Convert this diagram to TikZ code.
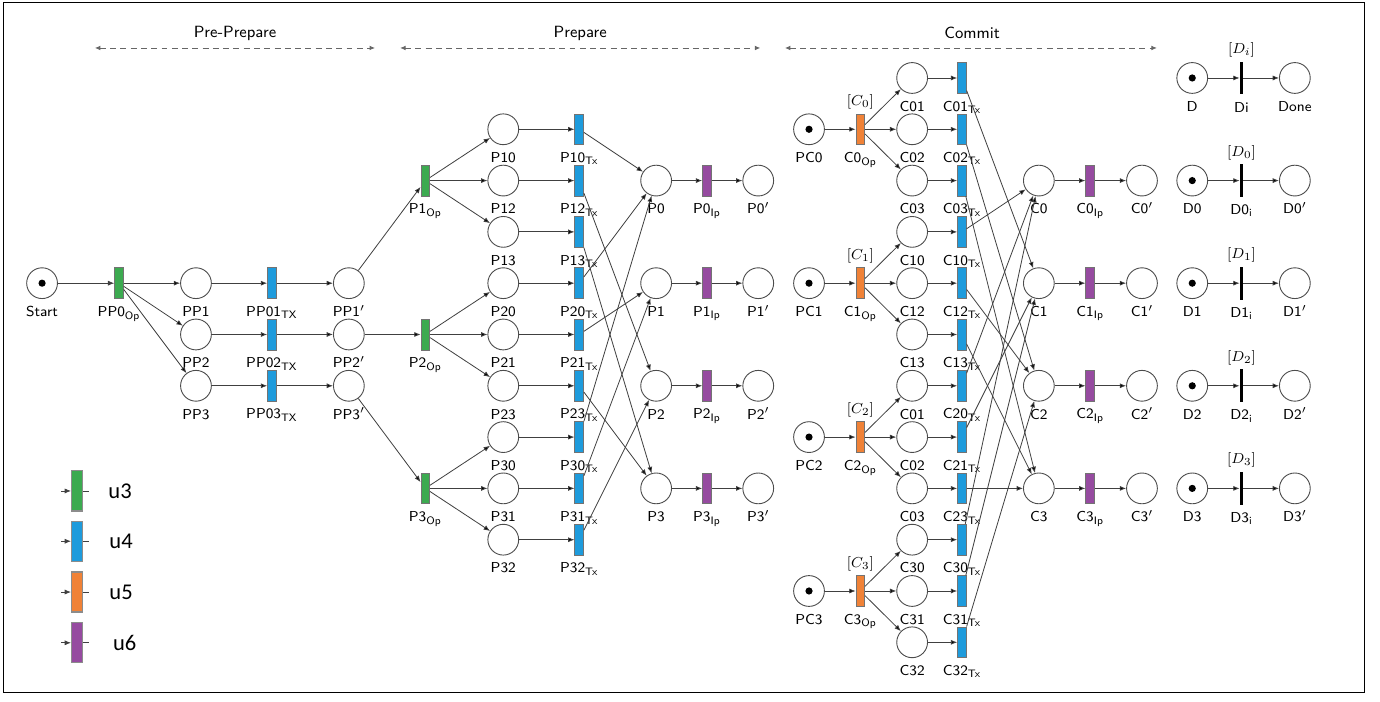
\documentclass[tikz,border=0pt]{standalone}
\usepackage{fontspec}
\newfontfamily\legendfont{Carlito}
\usetikzlibrary{arrows.meta,calc}
\definecolor{opgreen}{RGB}{60,170,80}
\definecolor{txblue}{RGB}{30,155,220}
\definecolor{oporange}{RGB}{240,130,55}
\definecolor{ippurple}{RGB}{150,75,160}
\begin{document}
\begin{tikzpicture}[
        font=\sffamily\footnotesize,
        place/.style={circle, draw=black!70, line width=0.5pt, minimum size=0.6cm, inner sep=0pt},
        token/.style={place, path picture={\fill (path picture bounding box.center) circle (0.07);}},
        trans/.style={rectangle, draw=black!55, line width=0.4pt, minimum width=0.17cm, minimum height=0.6cm, inner sep=0pt},
        greenT/.style={trans, fill=opgreen},
        blueT/.style={trans, fill=txblue},
        orangeT/.style={trans, fill=oporange},
        purpleT/.style={trans, fill=ippurple},
        barT/.style={rectangle, fill=black, minimum width=0.06cm, minimum height=0.64cm, inner sep=0pt},
        keyT/.style={minimum width=0.21cm, minimum height=0.78cm, draw=black!45, line width=0.6pt},
        flow/.style={draw=black!75, line width=0.45pt, -{Latex[length=3.5pt, width=2.8pt]}},
        span/.style={draw=black!60, line width=0.5pt, dash pattern=on 3.3pt off 2.4pt, {Latex[length=3pt, width=2.6pt]}-{Latex[length=3pt, width=2.6pt]}},
        every label/.style={font=\sffamily\footnotesize, text height=1.5ex, text depth=0.25ex, inner sep=1pt},
        label distance=2pt
    ]
            \useasboundingbox (-0.82,-12.16) rectangle (26.08,1.52);
            \draw[black, line width=0.6pt] (-0.76,1.48) rectangle (25.77,-11.97);
            % Phase headers
            \node[font=\sffamily\small] (ppHead) at (3.76,0.877) {Pre-Prepare};
            \node[font=\sffamily\small] (pHead) at (10.49,0.877) {Prepare};
            \node[font=\sffamily\small] (cHead) at (18.13,0.877) {Commit};
            \coordinate (ppL) at (1.03,0.585); \coordinate (ppR) at (6.49,0.585);
            \coordinate (pL) at (6.98,0.585); \coordinate (pR) at (14.0,0.585);
            \coordinate (cL) at (14.48,0.585); \coordinate (cR) at (21.73,0.585);
            \draw[span] (ppL) -- (ppR);
            \draw[span] (pL) -- (pR);
            \draw[span] (cL) -- (cR);
            % Pre-Prepare
            \node[token, label={below:Start}] (start) at (0,-4) {};
            \node[greenT, label={below:PP0\textsubscript{Op}}] (pp0op) at (1.5,-4) {};
            \node[place, label={below:PP1}] (pp1) at (3,-4) {};
            \node[place, label={below:PP2}] (pp2) at (3,-5) {};
            \node[place, label={below:PP3}] (pp3) at (3,-6) {};
            \node[blueT, label={below:PP01\textsubscript{TX}}] (pp01tx) at (4.48,-4) {};
            \node[blueT, label={below:PP02\textsubscript{TX}}] (pp02tx) at (4.48,-5) {};
            \node[blueT, label={below:PP03\textsubscript{TX}}] (pp03tx) at (4.48,-6) {};
            \node[place, label={below:PP1$'$}] (pp1p) at (5.98,-4) {};
            \node[place, label={below:PP2$'$}] (pp2p) at (5.98,-5) {};
            \node[place, label={below:PP3$'$}] (pp3p) at (5.98,-6) {};
            \draw[flow] (start) -- (pp0op);
            \draw[flow] (pp0op) edge (pp1) edge (pp2) edge (pp3);
            \draw[flow] (pp1) edge (pp01tx) (pp2) edge (pp02tx) (pp3) edge (pp03tx);
            \draw[flow] (pp01tx) edge (pp1p) (pp02tx) edge (pp2p) (pp03tx) edge (pp3p);
            % Prepare
            \node[greenT, label={below:P1\textsubscript{Op}}] (p1op) at (7.47,-2) {};
            \node[greenT, label={below:P2\textsubscript{Op}}] (p2op) at (7.47,-5) {};
            \node[greenT, label={below:P3\textsubscript{Op}}] (p3op) at (7.47,-8) {};
            \node[place, label={below:P10}] (p10) at (8.99,-1) {};
            \node[place, label={below:P12}] (p12) at (8.99,-2) {};
            \node[place, label={below:P13}] (p13) at (8.99,-3) {};
            \node[place, label={below:P20}] (p20) at (8.99,-4) {};
            \node[place, label={below:P21}] (p21) at (8.99,-5) {};
            \node[place, label={below:P23}] (p23) at (8.99,-6) {};
            \node[place, label={below:P30}] (p30) at (8.99,-7) {};
            \node[place, label={below:P31}] (p31) at (8.99,-8) {};
            \node[place, label={below:P32}] (p32) at (8.99,-9) {};
            \node[blueT, label={below:P10\textsubscript{Tx}}] (p10tx) at (10.47,-1) {};
            \node[blueT, label={below:P12\textsubscript{Tx}}] (p12tx) at (10.47,-2) {};
            \node[blueT, label={below:P13\textsubscript{Tx}}] (p13tx) at (10.47,-3) {};
            \node[blueT, label={below:P20\textsubscript{Tx}}] (p20tx) at (10.47,-4) {};
            \node[blueT, label={below:P21\textsubscript{Tx}}] (p21tx) at (10.47,-5) {};
            \node[blueT, label={below:P23\textsubscript{Tx}}] (p23tx) at (10.47,-6) {};
            \node[blueT, label={below:P30\textsubscript{Tx}}] (p30tx) at (10.47,-7) {};
            \node[blueT, label={below:P31\textsubscript{Tx}}] (p31tx) at (10.47,-8) {};
            \node[blueT, label={below:P32\textsubscript{Tx}}] (p32tx) at (10.47,-9) {};
            \node[place, label={below:P0}] (p0) at (11.97,-2) {};
            \node[place, label={below:P1}] (p1) at (11.97,-4) {};
            \node[place, label={below:P2}] (p2) at (11.97,-6) {};
            \node[place, label={below:P3}] (p3) at (11.97,-8) {};
            \node[purpleT, label={below:P0\textsubscript{Ip}}] (p0ip) at (12.96,-2) {};
            \node[purpleT, label={below:P1\textsubscript{Ip}}] (p1ip) at (12.96,-4) {};
            \node[purpleT, label={below:P2\textsubscript{Ip}}] (p2ip) at (12.96,-6) {};
            \node[purpleT, label={below:P3\textsubscript{Ip}}] (p3ip) at (12.96,-8) {};
            \node[place, label={below:P0$'$}] (p0p) at (13.96,-2) {};
            \node[place, label={below:P1$'$}] (p1p) at (13.96,-4) {};
            \node[place, label={below:P2$'$}] (p2p) at (13.96,-6) {};
            \node[place, label={below:P3$'$}] (p3p) at (13.96,-8) {};
            \draw[flow] (pp1p) edge (p1op) (pp2p) edge (p2op) (pp3p) edge (p3op);
            \draw[flow] (p1op) edge (p10) edge (p12) edge (p13);
            \draw[flow] (p2op) edge (p20) edge (p21) edge (p23);
            \draw[flow] (p3op) edge (p30) edge (p31) edge (p32);
            \draw[flow] (p10) edge (p10tx) (p12) edge (p12tx) (p13) edge (p13tx);
            \draw[flow] (p20) edge (p20tx) (p21) edge (p21tx) (p23) edge (p23tx);
            \draw[flow] (p30) edge (p30tx) (p31) edge (p31tx) (p32) edge (p32tx);
            \draw[flow] (p10tx) edge (p0) (p12tx) edge (p2) (p13tx) edge (p3);
            \draw[flow] (p20tx) edge (p0) (p21tx) edge (p1) (p23tx) edge (p3);
            \draw[flow] (p30tx) edge (p0) (p31tx) edge (p1) (p32tx) edge (p2);
            \draw[flow] (p0) edge (p0ip) (p1) edge (p1ip) (p2) edge (p2ip) (p3) edge (p3ip);
            \draw[flow] (p0ip) edge (p0p) (p1ip) edge (p1p) (p2ip) edge (p2p) (p3ip) edge (p3p);
            % Commit
            \node[token, label={below:PC0}] (pc0) at (14.95,-1) {};
            \node[token, label={below:PC1}] (pc1) at (14.95,-4) {};
            \node[token, label={below:PC2}] (pc2) at (14.95,-7) {};
            \node[token, label={below:PC3}] (pc3) at (14.95,-10) {};
            \node[orangeT, label={below:C0\textsubscript{Op}}, label={above:$[C_0]$}] (c0op) at (15.95,-1) {};
            \node[orangeT, label={below:C1\textsubscript{Op}}, label={above:$[C_1]$}] (c1op) at (15.95,-4) {};
            \node[orangeT, label={below:C2\textsubscript{Op}}, label={above:$[C_2]$}] (c2op) at (15.95,-7) {};
            \node[orangeT, label={below:C3\textsubscript{Op}}, label={above:$[C_3]$}] (c3op) at (15.95,-10) {};
            \node[place, label={below:C01}] (c01) at (16.96,0) {};
            \node[place, label={below:C02}] (c02) at (16.96,-1) {};
            \node[place, label={below:C03}] (c03) at (16.96,-2) {};
            \node[place, label={below:C10}] (c10) at (16.96,-3) {};
            \node[place, label={below:C12}] (c12) at (16.96,-4) {};
            \node[place, label={below:C13}] (c13) at (16.96,-5) {};
            \node[place, label={below:C01}] (c20) at (16.96,-6) {};
            \node[place, label={below:C02}] (c21) at (16.96,-7) {};
            \node[place, label={below:C03}] (c23) at (16.96,-8) {};
            \node[place, label={below:C30}] (c30) at (16.96,-9) {};
            \node[place, label={below:C31}] (c31) at (16.96,-10) {};
            \node[place, label={below:C32}] (c32) at (16.96,-11) {};
            \node[blueT, label={below:C01\textsubscript{Tx}}] (c01tx) at (17.93,0) {};
            \node[blueT, label={below:C02\textsubscript{Tx}}] (c02tx) at (17.93,-1) {};
            \node[blueT, label={below:C03\textsubscript{Tx}}] (c03tx) at (17.93,-2) {};
            \node[blueT, label={below:C10\textsubscript{Tx}}] (c10tx) at (17.93,-3) {};
            \node[blueT, label={below:C12\textsubscript{Tx}}] (c12tx) at (17.93,-4) {};
            \node[blueT, label={below:C13\textsubscript{Tx}}] (c13tx) at (17.93,-5) {};
            \node[blueT, label={below:C20\textsubscript{Tx}}] (c20tx) at (17.93,-6) {};
            \node[blueT, label={below:C21\textsubscript{Tx}}] (c21tx) at (17.93,-7) {};
            \node[blueT, label={below:C23\textsubscript{Tx}}] (c23tx) at (17.93,-8) {};
            \node[blueT, label={below:C30\textsubscript{Tx}}] (c30tx) at (17.93,-9) {};
            \node[blueT, label={below:C31\textsubscript{Tx}}] (c31tx) at (17.93,-10) {};
            \node[blueT, label={below:C32\textsubscript{Tx}}] (c32tx) at (17.93,-11) {};
            \node[place, label={below:C0}] (c0) at (19.43,-2) {};
            \node[place, label={below:C1}] (c1) at (19.43,-4) {};
            \node[place, label={below:C2}] (c2) at (19.43,-6) {};
            \node[place, label={below:C3}] (c3) at (19.43,-8) {};
            \node[purpleT, label={below:C0\textsubscript{Ip}}] (c0ip) at (20.43,-2) {};
            \node[purpleT, label={below:C1\textsubscript{Ip}}] (c1ip) at (20.43,-4) {};
            \node[purpleT, label={below:C2\textsubscript{Ip}}] (c2ip) at (20.43,-6) {};
            \node[purpleT, label={below:C3\textsubscript{Ip}}] (c3ip) at (20.43,-8) {};
            \node[place, label={below:C0$'$}] (c0p) at (21.44,-2) {};
            \node[place, label={below:C1$'$}] (c1p) at (21.44,-4) {};
            \node[place, label={below:C2$'$}] (c2p) at (21.44,-6) {};
            \node[place, label={below:C3$'$}] (c3p) at (21.44,-8) {};
            \draw[flow] (pc0) edge (c0op) (pc1) edge (c1op) (pc2) edge (c2op) (pc3) edge (c3op);
            \draw[flow] (c0op) edge (c01) edge (c02) edge (c03);
            \draw[flow] (c1op) edge (c10) edge (c12) edge (c13);
            \draw[flow] (c2op) edge (c20) edge (c21) edge (c23);
            \draw[flow] (c3op) edge (c30) edge (c31) edge (c32);
            \draw[flow] (c01) edge (c01tx) (c02) edge (c02tx) (c03) edge (c03tx);
            \draw[flow] (c10) edge (c10tx) (c12) edge (c12tx) (c13) edge (c13tx);
            \draw[flow] (c20) edge (c20tx) (c21) edge (c21tx) (c23) edge (c23tx);
            \draw[flow] (c30) edge (c30tx) (c31) edge (c31tx) (c32) edge (c32tx);
            \draw[flow] (c01tx) edge (c1) (c02tx) edge (c2) (c03tx) edge (c3);
            \draw[flow] (c10tx) edge (c0) (c12tx) edge (c2) (c13tx) edge (c3);
            \draw[flow] (c20tx) edge (c0) (c21tx) edge (c1) (c23tx) edge (c3);
            \draw[flow] (c30tx) edge (c0) (c31tx) edge (c1) (c32tx) edge (c2);
            \draw[flow] (c0) edge (c0ip) (c1) edge (c1ip) (c2) edge (c2ip) (c3) edge (c3ip);
            \draw[flow] (c0ip) edge (c0p) (c1ip) edge (c1p) (c2ip) edge (c2p) (c3ip) edge (c3p);
            % Decide
            \node[token, label={below:D}] (d) at (22.42,0) {};
            \node[barT, label={below:Di}, label={above:$[D_i]$}] (di) at (23.38,0) {};
            \node[place, label={below:Done}] (done) at (24.42,0) {};
            \node[token, label={below:D0}] (d0) at (22.42,-2) {};
            \node[barT, label={below:D0\textsubscript{i}}, label={above:$[D_0]$}] (d0i) at (23.38,-2) {};
            \node[place, label={below:D0$'$}] (d0p) at (24.42,-2) {};
            \node[token, label={below:D1}] (d1) at (22.42,-4) {};
            \node[barT, label={below:D1\textsubscript{i}}, label={above:$[D_1]$}] (d1i) at (23.38,-4) {};
            \node[place, label={below:D1$'$}] (d1p) at (24.42,-4) {};
            \node[token, label={below:D2}] (d2) at (22.42,-6) {};
            \node[barT, label={below:D2\textsubscript{i}}, label={above:$[D_2]$}] (d2i) at (23.38,-6) {};
            \node[place, label={below:D2$'$}] (d2p) at (24.42,-6) {};
            \node[token, label={below:D3}] (d3) at (22.42,-8) {};
            \node[barT, label={below:D3\textsubscript{i}}, label={above:$[D_3]$}] (d3i) at (23.38,-8) {};
            \node[place, label={below:D3$'$}] (d3p) at (24.42,-8) {};
            \draw[flow] (d) edge (di) (di) edge (done);
            \draw[flow] (d0) edge (d0i) (d0i) edge (d0p);
            \draw[flow] (d1) edge (d1i) (d1i) edge (d1p);
            \draw[flow] (d2) edge (d2i) (d2i) edge (d2p);
            \draw[flow] (d3) edge (d3i) (d3i) edge (d3p);
            % Legend
            \node[greenT, keyT] (u3) at (0.68,-8.05) {};
            \node[blueT, keyT] (u4) at (0.68,-9.03) {};
            \node[orangeT, keyT] (u5) at (0.68,-10.02) {};
            \node[purpleT, keyT] (u6) at (0.68,-11.01) {};
            \foreach \k in {u3,u4,u5,u6} {
                \coordinate (\k in) at ($(\k)+(-0.31,0)$);
                \coordinate (\k out) at ($(\k)+(0.24,0)$);
                \draw[flow] (\k in) -- (\k);
                \draw[draw=black!75, line width=0.45pt] (\k) -- (\k out);
            }
            \node[anchor=west, font=\legendfont\fontsize{12.5}{14}\selectfont] (u3txt) at (1.17,-8.05) {u3};
            \node[anchor=west, font=\legendfont\fontsize{12.5}{14}\selectfont] (u4txt) at (1.19,-9.03) {u4};
            \node[anchor=west, font=\legendfont\fontsize{12.5}{14}\selectfont] (u5txt) at (1.19,-10.02) {u5};
            \node[anchor=west, font=\legendfont\fontsize{12.5}{14}\selectfont] (u6txt) at (1.26,-11.01) {u6};
        \end{tikzpicture}
\end{document}
